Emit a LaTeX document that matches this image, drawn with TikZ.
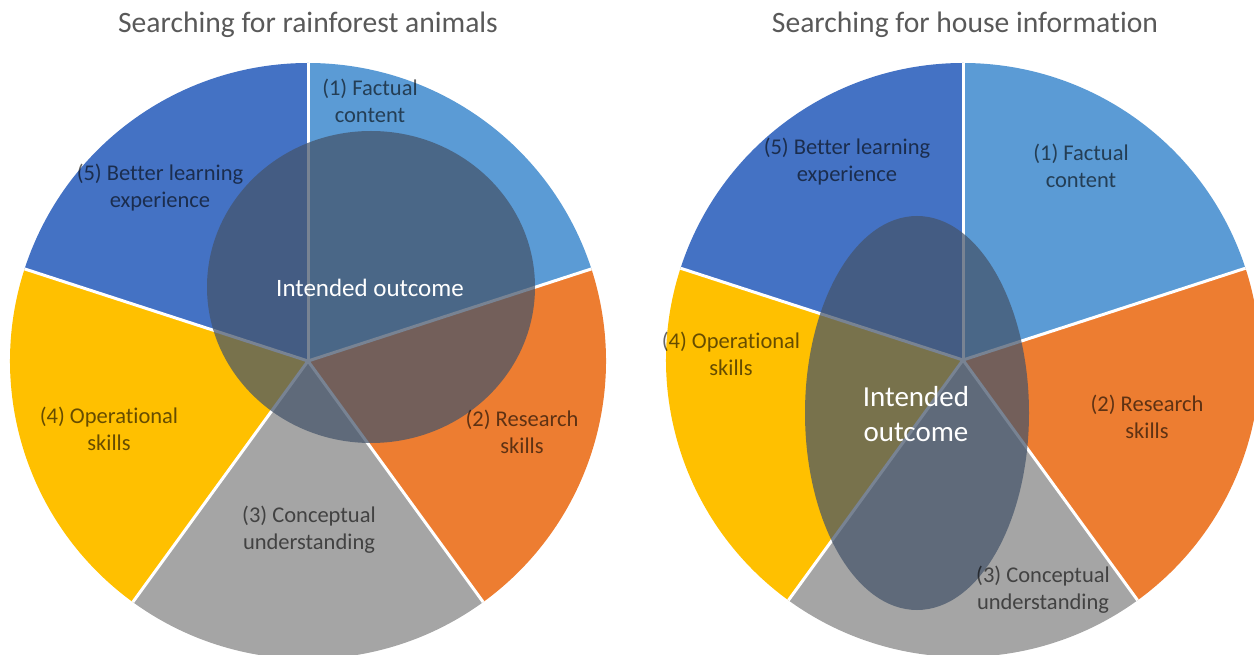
\documentclass[tikz,border=0pt]{standalone}
\usepackage{fontspec}
\setmainfont{Carlito}[Ligatures=NoCommon]

\definecolor{factual}{HTML}{5B9BD5}
\definecolor{research}{HTML}{ED7D31}
\definecolor{concept}{HTML}{A5A5A5}
\definecolor{operate}{HTML}{FFC000}
\definecolor{learning}{HTML}{4472C4}
\definecolor{veil}{HTML}{44546A}
\definecolor{titlegrey}{HTML}{595959}

\tikzset{
  pietitle/.style={text=titlegrey, font=\fontsize{29.6}{34}\selectfont},
  slicelabel/.style={align=center, text=black, text opacity=0.6, font=\fontsize{22.5}{27}\selectfont},
  goaltext/.style={align=center, text=white},
  veilfill/.style={fill=veil, fill opacity=0.72},
  cut/.style={white, line width=3pt}
}

\begin{document}
\begin{tikzpicture}[x=1pt, y=1pt]
			\useasboundingbox (0,0) rectangle (1254,654);
			\clip (0,0) rectangle (1254,654);
			\coordinate (lc) at (308,293);
			\coordinate (rc) at (963,294);
			% left pie
			\foreach \col [count=\i] in {factual,research,concept,operate,learning}
				\fill [\col] (lc) -- ++({90-72*(\i-1)}:298) arc [start angle={90-72*(\i-1)}, end angle={90-72*\i}, radius=298] -- cycle;
			\foreach \a in {90,18,-54,-126,-198}
				\draw [cut] (lc) -- ++(\a:298);
			% right pie
			\foreach \col [count=\i] in {factual,research,concept,operate,learning}
				\fill [\col] (rc) -- ++({90-72*(\i-1)}:297) arc [start angle={90-72*(\i-1)}, end angle={90-72*\i}, radius=297] -- cycle;
			\foreach \a in {90,18,-54,-126,-198}
				\draw [cut] (rc) -- ++(\a:297);
			% intended outcome
			\fill [veilfill] (371,367) ellipse [x radius=164, y radius=156];
			\fill [veilfill] (917,241) ellipse [x radius=112, y radius=197];
			\node (ltitle) [pietitle] at (308,629) {Searching for rainforest animals};
			\node (rtitle) [pietitle] at (965,629) {Searching for house information};
			\node (lfact) [slicelabel] at (370,553.5) {(1) Factual\\content};
			\node (lres) [slicelabel] at (522,222.5) {(2) Research\\skills};
			\node (lcon) [slicelabel] at (309,124) {(3) Conceptual\\understanding};
			\node (lop) [slicelabel] at (109,225) {(4) Operational\\skills};
			\node (llearn) [slicelabel] at (160,466) {(5) Better learning\\experience};
			\node (rfact) [slicelabel] at (1081,488) {(1) Factual\\content};
			\node (rres) [slicelabel] at (1147,237.5) {(2) Research\\skills};
			\node (rcon) [slicelabel] at (1043,64.5) {(3) Conceptual\\understanding};
			\node (rop) [slicelabel] at (731,300.5) {(4) Operational\\skills};
			\node (rlearn) [slicelabel] at (847,492) {(5) Better learning\\experience};
			\node (lgoal) [goaltext, font=\fontsize{25}{30}\selectfont] at (370,366) {Intended outcome};
			\node (rgoal) [goaltext, font=\fontsize{29}{35}\selectfont] at (916,240) {Intended\\outcome};
	\end{tikzpicture}
\end{document}
